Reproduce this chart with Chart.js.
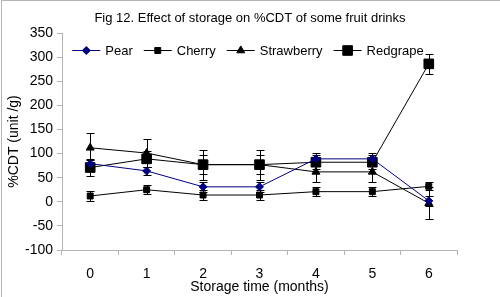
<!DOCTYPE html>
<html>
<head>
<meta charset="utf-8">
<script src="https://cdn.jsdelivr.net/npm/chart.js@4/dist/chart.umd.min.js"></script>
<style>
   html, body { margin: 0; padding: 0; background: #fff; }
   #wrap { width: 500px; height: 297px; position: relative; }
</style>
</head>
<body>
<div id="wrap"><canvas id="cdt"></canvas></div>
<script>

/* values */
const months = ["0", "1", "2", "3", "4", "5", "6"];
const pear = [79, 64, 31, 31, 89, 89, 2];
const pearErr = [8, 8, 10, 10, 12, 12, 10];
const cherry = [12, 25, 14, 14, 21, 21, 32];
const cherryErr = [10, 9, 10, 10, 10, 10, 8];
const strawberry = [112, 101, 77, 77, 62, 62, -3];
const strawberryErr = [31, 29, 31, 31, 22, 22, 33];
const redgrape = [71, 89, 77, 77, 82, 82, 286];
const redgrapeErr = [17, 17, 20, 20, 15, 15, 20];

const FONT = "'Liberation Sans', Arial, sans-serif";
const titleText = "Fig 12. Effect of storage on %CDT of some fruit drinks";

function series(label, data, err, color, style, radius) {
   return {
      label: label,
      data: data,
      err: err,
      borderColor: color,
      backgroundColor: color,
      borderWidth: 1,
      pointStyle: style,
      pointRadius: radius,
      pointHoverRadius: radius,
      pointBorderWidth: 1,
      tension: 0
   };
}

/* error bars, drawn under the markers */
const errorBars = {
   id: "errorBars",
   beforeDatasetsDraw(chart) {
      let ctx = chart.ctx, ys = chart.scales.y, xs = chart.scales.x;
      ctx.save();
      ctx.strokeStyle = "#000";
      ctx.lineWidth = 1;
      chart.data.datasets.forEach(ds => {
         ds.data.forEach((v, i) => {
            let x = Math.round(xs.getPixelForValue(i)) + 0.5;
            let y0 = Math.round(ys.getPixelForValue(v + ds.err[i])) + 0.5;
            let y1 = Math.round(ys.getPixelForValue(v - ds.err[i])) + 0.5;
            ctx.beginPath();
            ctx.moveTo(x, y0); ctx.lineTo(x, y1);
            ctx.moveTo(x - 4, y0); ctx.lineTo(x + 4, y0);
            ctx.moveTo(x - 4, y1); ctx.lineTo(x + 4, y1);
            ctx.stroke();
         });
      });
      ctx.restore();
   }
};

/* title, legend (inside the plot, centred on the page) and frame */
const decor = {
   id: "decor",
   afterDraw(chart) {
      let ctx = chart.ctx;
      ctx.save();
      /* frame: top and left only */
      ctx.strokeStyle = "#b4b4b4";
      ctx.lineWidth = 1;
      ctx.beginPath();
      ctx.moveTo(1.5, 297); ctx.lineTo(1.5, 0.5); ctx.lineTo(500, 0.5);
      ctx.stroke();
      /* title */
      ctx.fillStyle = "#000";
      ctx.font = "13px " + FONT;
      ctx.textAlign = "center";
      ctx.textBaseline = "middle";
      ctx.fillText(titleText, 250, 18);
      /* legend */
      ctx.font = "13px " + FONT;
      ctx.textAlign = "left";
      let lineW = 28, gap = 5, itemGap = 11, y = 50;
      let items = chart.data.datasets.map(ds => ({ds: ds, w: lineW + gap + ctx.measureText(ds.label).width}));
      let total = items.reduce((s, it) => s + it.w, 0) + itemGap * (items.length - 1);
      let x = 248 - total / 2;
      items.forEach(it => {
         let ds = it.ds;
         ctx.strokeStyle = ds.borderColor;
         ctx.fillStyle = ds.backgroundColor;
         ctx.lineWidth = 1;
         ctx.beginPath();
         ctx.moveTo(x, y + 0.5); ctx.lineTo(x + lineW, y + 0.5);
         ctx.stroke();
         Chart.helpers.drawPoint(ctx, {pointStyle: ds.pointStyle, radius: ds.pointRadius, rotation: 0, borderWidth: 1}, x + lineW / 2, y + 0.5);
         ctx.fillStyle = "#000";
         ctx.fillText(ds.label, x + lineW + gap, y + 1);
         x += it.w + itemGap;
      });
      ctx.restore();
   }
};

let ctx = document.getElementById("cdt");
let conf = {
   type: "line",
   data: {
      labels: months,
      datasets: [
         series("Pear", pear, pearErr, "#000080", "rectRot", 4),
         series("Cherry", cherry, cherryErr, "#000", "rect", 4.2),
         series("Strawberry", strawberry, strawberryErr, "#000", "triangle", 4.6),
         series("Redgrape", redgrape, redgrapeErr, "#000", "rect", 6.8)
      ]
   },
   options: {
      responsive: false,
      animation: false,
      layout: {padding: {top: 33, right: 43, left: 0, bottom: 0}},
      plugins: {
         legend: {display: false},
         title: {display: false},
         tooltip: {enabled: false}
      },
      scales: {
         x: {
            type: "category",
            offset: true,
            afterFit: s => { s.height = 47; },
            grid: {display: true, drawOnChartArea: false, offset: true, tickLength: 5, color: "#b4b4b4"},
            border: {color: "#b4b4b4"},
            ticks: {color: "#000", padding: 11, font: {family: FONT, size: 14}},
            title: {display: true, text: "Storage time (months)", color: "#000",
               padding: {top: 0, bottom: 1}, font: {family: FONT, size: 14}}
         },
         y: {
            min: -100,
            max: 350,
            afterFit: s => { s.width = 62; },
            grid: {display: true, drawOnChartArea: false, tickLength: 5, color: "#b4b4b4"},
            border: {color: "#b4b4b4"},
            ticks: {stepSize: 50, color: "#000", padding: 4, font: {family: FONT, size: 14}},
            title: {display: true, text: "%CDT (unit /g)", color: "#000",
               padding: {top: 6, bottom: 0}, font: {family: FONT, size: 14}}
         }
      }
   },
   plugins: [errorBars, decor]
};

ctx.width = 500;
ctx.height = 297;
let chart = new Chart(ctx, conf);

</script>
</body>
</html>
